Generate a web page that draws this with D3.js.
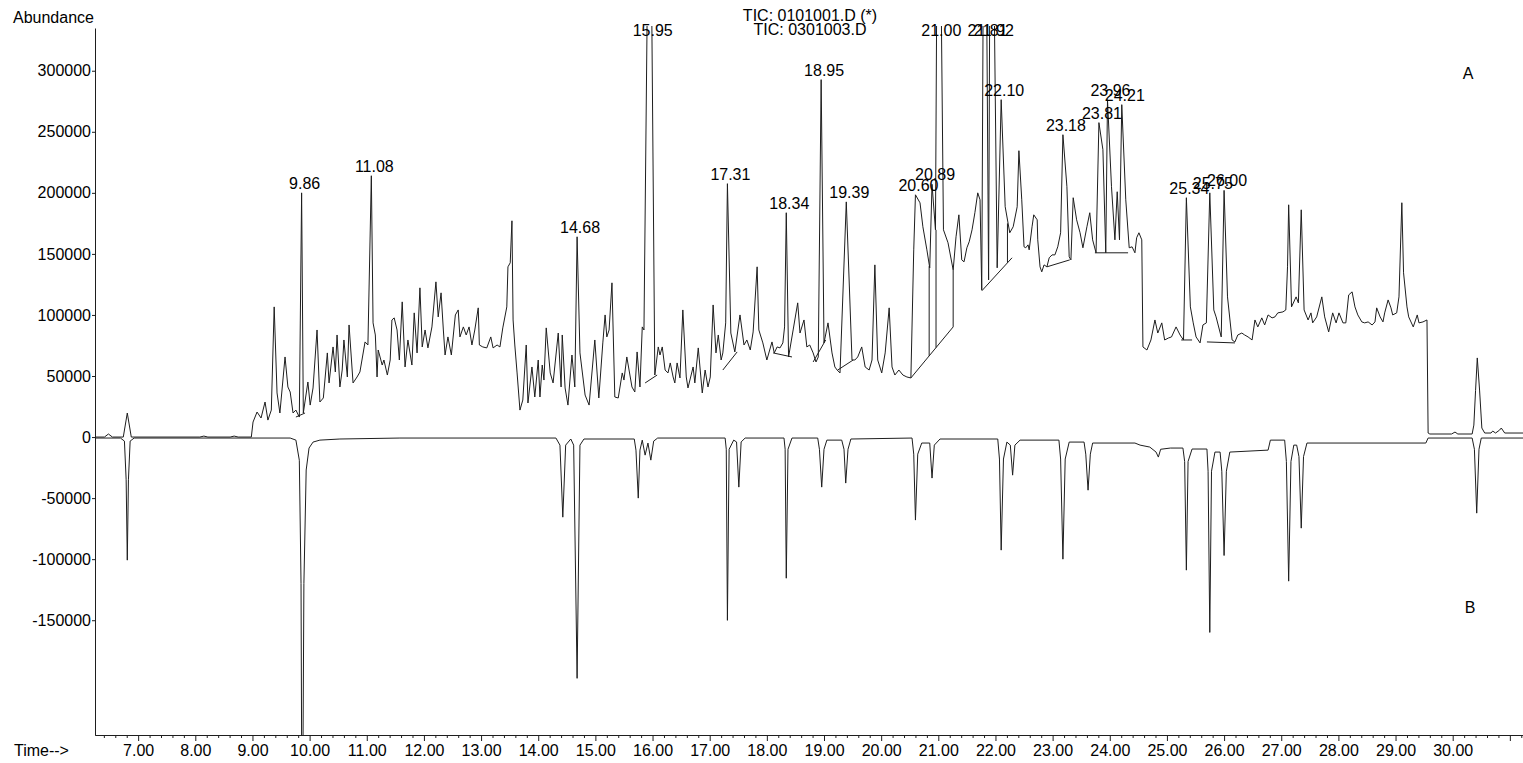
<!DOCTYPE html>
<html>
<head>
<meta charset="utf-8">
<script src="https://cdn.jsdelivr.net/npm/d3@7"></script>
<style>
  body { margin: 0; background: #fff; }
  text { font-family: Arial, "Liberation Sans", sans-serif; fill: #000; }
</style>
</head>
<body>
<div id="graf"></div>
<script>
// I. Datos (tiempo en min, abundancia)
titulos = ['TIC: 0101001.D (*)', 'TIC: 0301003.D']

ticksY = [300000, 250000, 200000, 150000, 100000, 50000, 0, -50000, -100000, -150000]
ticksX = [7, 8, 9, 10, 11, 12, 13, 14, 15, 16, 17, 18, 19, 20, 21, 22, 23, 24, 25, 26, 27, 28, 29, 30, 31]

// traza A (arriba)
trazaA = [[6.21,0],[6.41,0],[6.48,2500],[6.55,0],[6.74,0],[6.81,19700],[6.88,0],[8.08,0],[8.15,800],[8.22,0],[8.61,0],[8.68,800],[8.75,0],[8.98,0],
[9.01,12300],[9.08,20500],[9.15,15600],[9.22,28700],[9.27,13900],[9.33,22100],[9.38,106600],[9.43,36100],[9.48,19700],[9.57,65600],[9.62,41000],[9.66,36900],[9.71,19700],[9.76,22100],[9.82,16400],[9.86,200000],[9.89,19700],[9.97,45100],[10.01,26200],[10.06,40200],[10.13,87700],[10.18,28700],[10.24,32000],[10.31,68900],[10.34,44300],[10.41,73800],[10.45,53300],[10.48,83600],[10.53,41000],[10.57,54900],[10.60,79500],[10.66,49200],[10.69,91800],[10.76,44300],[10.83,49200],[10.88,53300],[10.97,77900],[11.02,75400],[11.08,214000],[11.11,93500],[11.15,83600],[11.18,49200],[11.20,71300],[11.27,59000],[11.30,63100],[11.36,50800],[11.41,63100],[11.44,95900],[11.48,97600],[11.53,87700],[11.57,63100],[11.62,110700],[11.67,57400],[11.72,79500],[11.79,59000],[11.83,101700],[11.88,68900],[11.93,122200],[11.97,73800],[12.02,87700],[12.07,73000],[12.14,90200],[12.21,127100],[12.25,98400],[12.30,118100],[12.34,87700],[12.37,67200],[12.42,82000],[12.48,67200],[12.55,100000],[12.60,104100],[12.63,82000],[12.69,90200],[12.74,83600],[12.79,90200],[12.84,75400],[12.89,87700],[12.95,105800],[12.97,75400],[13.03,73800],[13.10,73000],[13.17,82000],[13.21,73000],[13.28,75400],[13.33,73800],[13.38,89400],[13.45,106600],[13.47,139400],[13.51,142700],[13.54,177100],[13.56,95900],[13.59,75400],[13.63,52500],[13.68,22100],[13.73,30300],[13.79,75400],[13.82,27900],[13.89,57400],[13.94,32800],[14.00,63100],[14.03,32800],[14.07,59000],[14.10,46700],[14.14,89400],[14.21,52500],[14.26,44300],[14.35,85200],[14.40,41000],[14.42,83600],[14.47,40200],[14.52,26200],[14.59,67200],[14.64,41000],[14.68,164000],[14.73,68900],[14.82,34400],[14.89,26200],[14.99,79500],[15.06,32000],[15.13,77100],[15.17,100000],[15.20,82000],[15.24,87700],[15.29,126300],[15.34,32800],[15.40,32000],[15.47,52500],[15.50,46700],[15.55,65600],[15.64,41000],[15.69,36900],[15.73,69700],[15.78,41000],[15.82,90200],[15.85,87700],[15.95,550000],[16.04,50800],[16.10,73800],[16.13,67200],[16.17,73800],[16.22,54900],[16.27,52500],[16.31,60700],[16.36,49200],[16.39,44300],[16.43,60700],[16.48,48400],[16.53,104100],[16.59,49200],[16.62,40200],[16.71,57400],[16.74,44300],[16.80,73000],[16.87,36100],[16.92,54900],[16.97,41000],[17.01,49200],[17.06,108200],[17.11,68900],[17.15,83600],[17.20,63100],[17.23,68900],[17.28,93500],[17.31,207500],[17.37,85200],[17.44,69700],[17.53,100000],[17.60,75400],[17.65,79500],[17.71,71300],[17.76,86100],[17.83,139400],[17.86,87700],[17.93,77100],[18.00,63100],[18.09,77900],[18.13,68900],[18.18,73800],[18.23,73000],[18.28,77100],[18.31,90200],[18.34,183700],[18.38,65600],[18.46,87700],[18.54,109900],[18.58,85200],[18.65,95900],[18.70,73800],[18.75,75400],[18.81,68900],[18.86,61500],[18.90,65600],[18.95,292700],[19.00,77100],[19.07,93500],[19.14,68900],[19.19,57400],[19.23,54900],[19.28,52500],[19.39,192600],[19.49,63100],[19.54,63100],[19.59,65600],[19.66,73800],[19.72,57400],[19.79,54900],[19.84,63100],[19.89,141000],[19.94,63100],[20.01,52500],[20.07,68900],[20.14,105800],[20.19,57400],[20.24,50800],[20.31,54900],[20.38,50800],[20.45,49200],[20.52,48400],[20.57,153300],[20.60,198400],[20.68,191800],[20.73,172200],[20.80,153300],[20.85,138600],[20.89,207000],[20.95,169700],[21.00,600000],[21.09,169700],[21.17,159100],[21.26,136900],[21.31,164000],[21.36,182000],[21.41,145100],[21.45,143500],[21.50,155000],[21.54,159900],[21.59,169700],[21.64,183700],[21.69,200000],[21.73,194300],[21.76,120500],[21.81,600000],[21.88,128700],[21.92,600000],[22.03,138600],[22.10,276300],[22.17,188600],[22.25,167300],[22.31,172200],[22.38,188600],[22.41,234500],[22.46,194300],[22.50,155800],[22.53,155000],[22.57,157400],[22.59,153300],[22.64,172200],[22.67,182000],[22.73,177900],[22.74,161500],[22.78,139400],[22.81,135300],[22.85,141000],[22.90,139400],[22.94,146800],[22.99,149200],[23.04,149200],[23.09,155800],[23.14,167300],[23.18,247600],[23.25,205000],[23.29,147600],[23.32,145100],[23.36,196000],[23.42,177900],[23.48,167300],[23.53,155000],[23.60,172200],[23.65,183700],[23.70,161500],[23.76,150900],[23.81,257500],[23.88,235300],[23.93,150900],[23.96,276300],[24.03,205000],[24.09,161500],[24.13,200900],[24.17,161500],[24.21,272200],[24.28,194300],[24.34,155000],[24.39,155800],[24.44,150900],[24.47,163200],[24.51,167300],[24.56,161500],[24.58,73800],[24.65,71300],[24.72,79500],[24.79,95900],[24.84,85200],[24.91,93500],[24.96,79500],[25.03,81200],[25.08,82000],[25.16,90200],[25.23,83600],[25.29,79500],[25.34,196000],[25.41,106600],[25.46,93500],[25.51,82000],[25.58,77100],[25.63,91800],[25.69,93500],[25.75,200000],[25.82,104100],[25.86,98400],[25.95,82000],[26.00,202000],[26.06,114800],[26.14,79500],[26.19,77900],[26.24,83600],[26.31,85200],[26.36,83600],[26.42,82000],[26.49,79500],[26.54,95900],[26.59,90200],[26.66,97600],[26.71,91800],[26.77,100000],[26.84,97600],[26.89,98400],[26.94,101700],[27.03,102500],[27.08,104100],[27.11,139400],[27.13,190200],[27.18,106600],[27.26,114800],[27.30,109900],[27.35,186100],[27.40,104100],[27.47,95900],[27.52,101700],[27.55,93500],[27.62,98400],[27.71,114800],[27.76,98400],[27.83,86100],[27.90,101700],[27.96,93500],[28.01,101700],[28.08,93500],[28.13,93500],[28.18,116400],[28.24,118900],[28.29,106600],[28.34,100000],[28.41,94300],[28.46,93500],[28.52,94300],[28.59,91800],[28.64,94300],[28.67,105800],[28.73,98400],[28.78,94300],[28.81,101700],[28.87,112300],[28.92,105800],[28.95,100000],[29.02,101700],[29.06,114800],[29.11,191900],[29.14,134500],[29.20,106600],[29.23,98400],[29.31,90200],[29.38,100000],[29.41,93500],[29.48,94300],[29.55,95900],[29.57,3300],[29.60,2500],[29.98,2500],[30.04,4100],[30.09,2500],[30.34,2500],[30.37,9800],[30.40,38000],[30.43,64800],[30.47,38500],[30.51,7400],[30.56,3300],[30.67,3300],[30.70,4900],[30.75,3300],[30.82,5700],[30.85,7400],[30.91,3300],[31.23,3300]]

// traza B (abajo, invertida)
trazaB = [[6.21,-800],[6.69,-800],[6.76,-3300],[6.79,-35000],[6.81,-100800],[6.83,-35000],[6.86,-3300],[6.93,-800],
[9.66,-800],[9.76,-2500],[9.82,-19000],[9.85,-120000],[9.87,-380000],[9.90,-120000],[9.94,-27000],[9.99,-9000],[10.06,-4100],[10.18,-2500],[10.53,-1600],[11.58,-800],
[14.31,-800],[14.38,-6600],[14.43,-65600],[14.48,-6600],[14.57,-1600],[14.62,-6600],[14.68,-197600],[14.73,-6600],[14.80,-1600],
[15.68,-1600],[15.71,-10700],[15.75,-50000],[15.78,-10700],[15.82,-2500],[15.87,-14800],[15.92,-4900],[15.97,-18900],[16.02,-3300],[16.09,-800],
[17.27,-800],[17.29,-10000],[17.31,-150100],[17.34,-10000],[17.42,-2500],[17.47,-4000],[17.51,-41000],[17.55,-4000],[17.62,-800],
[18.30,-800],[18.32,-10000],[18.34,-115600],[18.37,-10000],[18.44,-800],
[18.89,-800],[18.92,-10000],[18.96,-41000],[19.00,-10000],[19.05,-2500],[19.31,-2500],[19.35,-10000],[19.38,-37700],[19.42,-10000],[19.47,-1600],
[20.54,-800],[20.57,-14000],[20.60,-68000],[20.64,-14000],[20.71,-4900],[20.85,-4900],[20.89,-33600],[20.93,-6600],[21.03,-1600],
[22.04,-1600],[22.07,-18000],[22.10,-92600],[22.14,-18000],[22.20,-4100],[22.26,-6600],[22.30,-31200],[22.34,-6600],[22.43,-2500],
[23.11,-2500],[23.14,-18000],[23.18,-100000],[23.22,-18000],[23.29,-4100],[23.55,-4100],[23.58,-14000],[23.62,-43500],[23.66,-14000],[23.70,-4900],
[24.44,-4900],[24.53,-6600],[24.70,-8200],[24.81,-12300],[24.85,-16400],[24.89,-10000],[25.06,-9000],[25.28,-9000],[25.31,-20000],[25.34,-109000],[25.37,-20000],[25.44,-9800],
[25.70,-9800],[25.72,-28000],[25.75,-160000],[25.78,-28000],[25.84,-12300],[25.93,-12300],[25.96,-28000],[26.00,-97000],[26.04,-28000],[26.10,-12300],[26.77,-10700],[26.81,-2500],
[27.06,-2500],[27.09,-20000],[27.13,-118000],[27.17,-20000],[27.22,-6600],[27.27,-6600],[27.31,-16000],[27.35,-74600],[27.39,-16000],[27.45,-4900],[29.53,-4900],[29.57,-800],
[30.34,-800],[30.38,-10000],[30.42,-62300],[30.46,-10000],[30.50,-800],[31.23,-800]]

// lineas de integración [t1, v1, t2, v2]
integracion = [[9.76,16400,9.92,19700],[15.87,44300,16.08,50800],[17.23,54900,17.48,69700],[18.11,68900,18.44,65600],
[18.81,61500,19.03,79500],[19.24,54900,19.51,63100],[20.52,48400,21.26,90200],[20.84,66500,20.84,140000],
[20.96,73300,20.96,169700],[21.26,90200,21.26,136900],[21.76,119700,22.29,146800],[22.21,142700,22.21,175000],
[22.90,139400,23.30,145100],[23.74,150900,24.32,150900],[25.25,79500,25.44,79500],[25.70,77900,26.19,77100]]

// picos rotulados
picos = [9.86, 11.08, 14.68, 15.95, 17.31, 18.34, 18.95, 19.39, 20.60, 20.89, 21.00, 21.81, 21.92, 22.10,
         23.18, 23.81, 23.96, 24.21, 25.34, 25.75, 26.00]

// II. Configuración
ancho = 1523
alto = 763
svg = d3.select('#graf').append('svg')
        .attr('width', ancho)
        .attr('height', alto)

x = d3.scaleLinear().domain([6.245, 31.23]).range([95, 1523])
y = d3.scaleLinear().domain([-244000, 335000]).range([735, 28])

svg.append('clipPath').attr('id', 'recorte')
  .append('rect')
    .attr('x', 95).attr('y', 26)
    .attr('width', ancho - 95).attr('height', 735 - 26)

linea = d3.line().x(d => x(d[0])).y(d => y(d[1]))

gTrazas = svg.append('g').attr('clip-path', 'url(#recorte)')

gTrazas.selectAll('path.traza')
  .data([trazaA, trazaB])
  .enter().append('path')
    .attr('class', 'traza')
    .attr('d', linea)
    .attr('fill', 'none')
    .attr('stroke', '#1e1e1e')
    .attr('stroke-width', 1)

gTrazas.selectAll('line.integ')
  .data(integracion)
  .enter().append('line')
    .attr('class', 'integ')
    .attr('x1', d => x(d[0])).attr('y1', d => y(d[1]))
    .attr('x2', d => x(d[2])).attr('y2', d => y(d[3]))
    .attr('stroke', '#1e1e1e')
    .attr('stroke-width', 1)

// rótulos de picos
svg.selectAll('text.pico')
  .data(picos)
  .enter().append('text')
    .attr('class', 'pico')
    .attr('x', d => x(d) + 3)
    .attr('y', d => {
      let v = trazaA.find(p => p[0] === d)[1]
      return Math.max(y(v), 40) - 4
    })
    .attr('text-anchor', 'middle')
    .style('font-size', '16px')
    .text(d => d.toFixed(2))

// III. Ejes
ejeY = d3.axisLeft(y)
         .tickValues(ticksY)
         .tickSize(3)
         .tickSizeOuter(0)
         .tickPadding(1)
         .tickFormat(d => d + '')
gY = svg.append('g').attr('transform', 'translate(95, 0)').call(ejeY)

menores = d3.range(32, 157).filter(i => i % 5 != 0).map(i => i / 5)
ejeXmenor = d3.axisBottom(x).tickValues(menores).tickSize(3).tickSizeOuter(0).tickFormat('')
svg.append('g').attr('transform', 'translate(0, 735)').call(ejeXmenor)

ejeX = d3.axisBottom(x)
         .tickValues(ticksX)
         .tickSize(6)
         .tickSizeOuter(0)
         .tickPadding(4)
         .tickFormat(d => d < 31 ? d3.format('.2f')(d) : '')
gX = svg.append('g').attr('transform', 'translate(0, 735)').call(ejeX)

svg.selectAll('.domain, .tick line').attr('stroke', '#1e1e1e')
svg.selectAll('.tick text')
  .style('font-size', '16px')
  .style('font-family', 'Arial, "Liberation Sans", sans-serif')
  .attr('fill', '#000')

// textos
svg.append('text').attr('x', 13).attr('y', 23).style('font-size', '16px').text('Abundance')
svg.append('text').attr('x', 14).attr('y', 756).style('font-size', '16px').text('Time-->')

svg.selectAll('text.titulo')
  .data(titulos)
  .enter().append('text')
    .attr('class', 'titulo')
    .attr('x', 810)
    .attr('y', (d, i) => 21 + i * 14)
    .attr('text-anchor', 'middle')
    .style('font-size', '16px')
    .text(d => d)

svg.append('text').attr('x', 1468).attr('y', 79).attr('text-anchor', 'middle').style('font-size', '16px').text('A')
svg.append('text').attr('x', 1470).attr('y', 613).attr('text-anchor', 'middle').style('font-size', '16px').text('B')
</script>
</body>
</html>
